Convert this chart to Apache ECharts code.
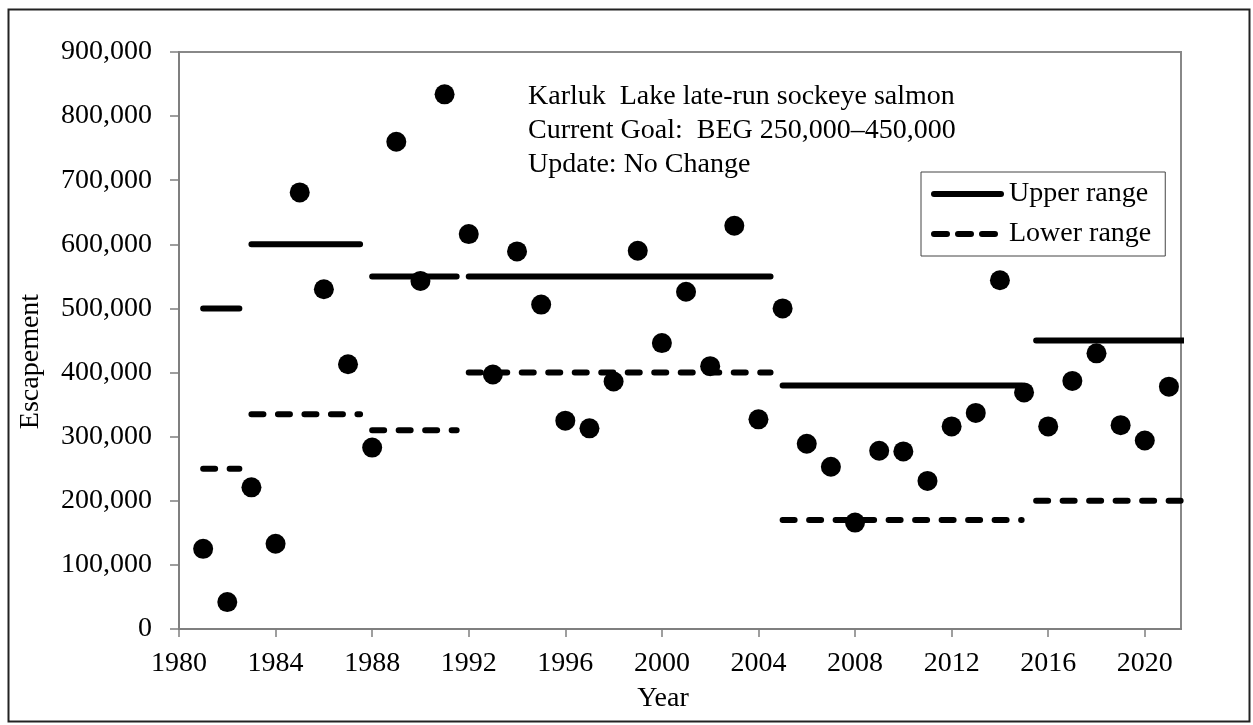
<!DOCTYPE html>
<html>
<head>
<meta charset="utf-8">
<script src="https://cdn.jsdelivr.net/npm/echarts@6/dist/echarts.min.js"></script>
<style>
  html, body { margin: 0; padding: 0; background: #fff; }
  #chart { width: 1253px; height: 725px; }
</style>
</head>
<body>
<div id="chart"></div>
<script>
var years = [1981, 1982, 1983, 1984, 1985, 1986, 1987, 1988, 1989, 1990,
    1991, 1992, 1993, 1994, 1995, 1996, 1997, 1998, 1999, 2000,
    2001, 2002, 2003, 2004, 2005, 2006, 2007, 2008, 2009, 2010,
    2011, 2012, 2013, 2014, 2015, 2016, 2017, 2018, 2019, 2020, 2021];
var escapement = [125000, 42000, 221000, 133000, 681000, 530000, 413000, 283000, 760000, 543000,
    834000, 616000, 397000, 589000, 506000, 325000, 313000, 386000, 590000, 446000,
    526000, 410000, 629000, 327000, 500000, 289000, 253000, 166000, 278000, 277000,
    231000, 316000, 337000, 544000, 369000, 316000, 387000, 430000, 318000, 294000, 378000];

// goal periods (start / end year of each line segment)
var goalStart = [1981, 1983, 1988, 1992, 2005, 2015.5];
var goalEnd = [1982.5, 1987.5, 1991.5, 2004.5, 2014.9, 2022];
var upperRange = [500000, 600000, 550000, 550000, 380000, 450000];
var lowerRange = [250000, 335000, 310000, 400000, 170000, 200000];

var annotation = [
    "Karluk  Lake late-run sockeye salmon",
    "Current Goal:  BEG 250,000\u2013450,000",
    "Update: No Change"
];

var serif = "Liberation Serif";
var labelRich = { t: { fontFamily: serif, fontSize: 28, color: "#000" } };

function rangeData(values) {
    var out = [];
    for (var i = 0; i < values.length; i++) {
        out.push([goalStart[i], values[i]]);
        out.push([goalEnd[i], values[i]]);
        out.push([goalEnd[i], "-"]);
    }
    return out;
}

var chart = echarts.init(document.getElementById("chart"));

var option = {
    backgroundColor: "#fff",
    animation: false,
    textStyle: { fontFamily: serif, color: "#000" },
    title: {
        text: annotation.join("\n"),
        left: 528,
        top: 80,
        padding: 0,
        textStyle: { fontFamily: serif, fontSize: 28, fontWeight: "normal", color: "#000", lineHeight: 34 }
    },
    legend: {
        orient: "vertical",
        left: 921,
        top: 172,
        padding: [8, 14, 8, 10],
        itemWidth: 67,
        itemHeight: 14,
        itemGap: 12,
        borderColor: "#444",
        borderWidth: 1,
        itemStyle: { opacity: 0 },
        textStyle: { fontFamily: serif, fontSize: 28, color: "#000", padding: [0, 0, 0, 3] },
        data: [
            { name: "Upper range", lineStyle: { width: 6, type: "solid", cap: "round" } },
            { name: "Lower range", lineStyle: { width: 6, type: [13, 11], cap: "round" } }
        ]
    },
    grid: {
        left: 179,
        right: 72,
        top: 52,
        bottom: 96,
        show: true,
        borderColor: "#888",
        borderWidth: 2
    },
    xAxis: {
        type: "value",
        min: 1980,
        max: 2021.5,
        interval: 4,
        name: "Year",
        nameLocation: "middle",
        nameGap: 56,
        nameTextStyle: { fontFamily: serif, fontSize: 28, color: "#000", padding: [0, 34, 0, 0] },
        axisLine: { lineStyle: { color: "#7f7f7f", width: 2 } },
        axisTick: { length: 8, lineStyle: { color: "#7f7f7f", width: 1.5 } },
        splitLine: { show: false },
        axisLabel: {
            margin: 21,
            showMaxLabel: false,
            rich: labelRich,
            formatter: function(v) { return v % 4 === 0 ? "{t|" + v + "}" : ""; }
        }
    },
    yAxis: {
        type: "value",
        min: 0,
        max: 900000,
        interval: 100000,
        name: "Escapement",
        nameLocation: "middle",
        nameGap: 134,
        nameTextStyle: { fontFamily: serif, fontSize: 28, color: "#000", padding: [0, 42, 0, 0] },
        axisLine: { show: true, lineStyle: { color: "#7f7f7f", width: 2 } },
        axisTick: { show: true, length: 9, lineStyle: { color: "#7f7f7f", width: 1.5 } },
        splitLine: { show: false },
        axisLabel: {
            margin: 27,
            rich: labelRich,
            formatter: function(v) { return "{t|" + v.toLocaleString("en-US") + "}"; }
        }
    },
    graphic: [{
        type: "rect",
        left: 6,
        top: 7,
        shape: { width: 1241, height: 712 },
        style: { fill: null, stroke: "#222", lineWidth: 2 },
        silent: true
    }],
    series: [{
        name: "Upper range",
        type: "line",
        data: rangeData(upperRange),
        symbol: "none",
        clip: true,
        z: 2,
        lineStyle: { color: "#000", width: 6, cap: "round" }
    }, {
        name: "Lower range",
        type: "line",
        data: rangeData(lowerRange),
        symbol: "none",
        clip: true,
        z: 2,
        lineStyle: { color: "#000", width: 6, type: [12, 14.5], cap: "round" }
    }, {
        name: "Escapement",
        type: "scatter",
        data: years.map(function(y, i) { return [y, escapement[i]]; }),
        symbol: "circle",
        symbolSize: 20,
        z: 3,
        itemStyle: { color: "#000", opacity: 1 }
    }]
};

chart.setOption(option);
</script>
</body>
</html>
